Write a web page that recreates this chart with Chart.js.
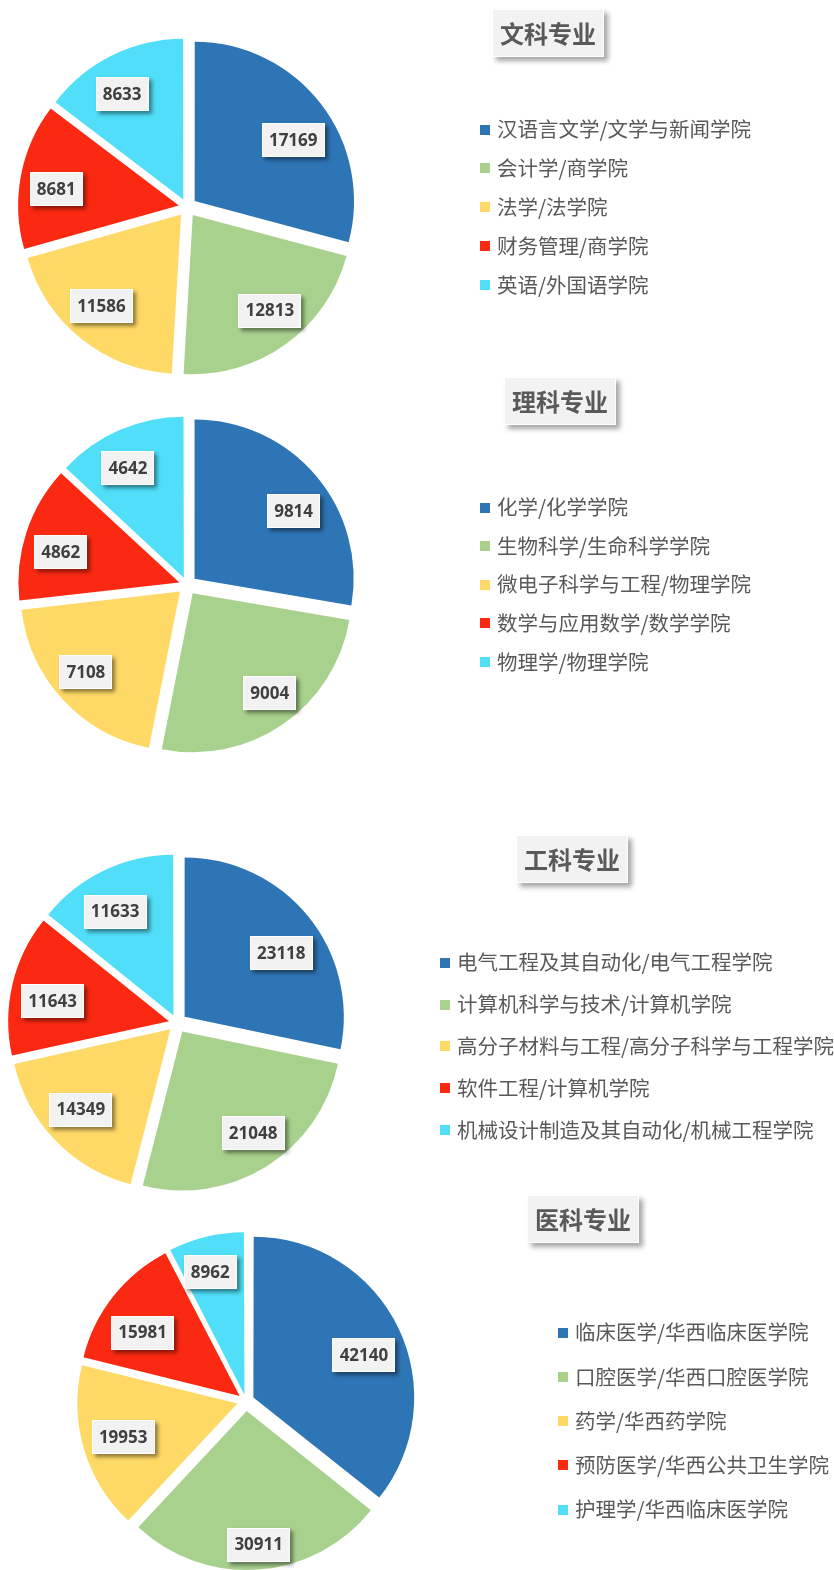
<!DOCTYPE html>
<html>
<head>
<meta charset="utf-8">
<script src="https://cdn.jsdelivr.net/npm/chart.js@4.4.1/dist/chart.umd.min.js"></script>
<style>
  html, body { margin: 0; padding: 0; background: #fff; }
  #page { position: relative; width: 834px; height: 1570px; overflow: hidden; }
  #page canvas { position: absolute; left: 0; }
</style>
</head>
<body>
<div id="page"></div>
<script>
// chart data
const titles = ['文科专业', '理科专业', '工科专业', '医科专业']

const artsLabels = ['汉语言文学/文学与新闻学院', '会计学/商学院', '法学/法学院', '财务管理/商学院', '英语/外国语学院']
const artsValues = [17169, 12813, 11586, 8681, 8633]

const scienceLabels = ['化学/化学学院', '生物科学/生命科学学院', '微电子科学与工程/物理学院', '数学与应用数学/数学学院', '物理学/物理学院']
const scienceValues = [9814, 9004, 7108, 4862, 4642]

const engLabels = ['电气工程及其自动化/电气工程学院', '计算机科学与技术/计算机学院', '高分子材料与工程/高分子科学与工程学院', '软件工程/计算机学院', '机械设计制造及其自动化/机械工程学院']
const engValues = [23118, 21048, 14349, 11643, 11633]

const medLabels = ['临床医学/华西临床医学院', '口腔医学/华西口腔医学院', '药学/华西药学院', '预防医学/华西公共卫生学院', '护理学/华西临床医学院']
const medValues = [42140, 30911, 19953, 15981, 8962]

const colors = ['#2e75b6', '#a9d18e', '#ffd966', '#fb2912', '#50def9']

// layout of each block on the page (page coordinates)
const layouts = [
  { top: 0,    height: 400, cx: 187, cy: 207,  tx: 548, ty: 33,    lx: 480, ly: 129.5,  gap: 38.9 },
  { top: 365,  height: 420, cx: 187, cy: 585,  tx: 560, ty: 401,   lx: 480, ly: 507.5,  gap: 38.6 },
  { top: 790,  height: 410, cx: 177, cy: 1023, tx: 572, ty: 858.5, lx: 440, ly: 962.7,  gap: 41.8 },
  { top: 1180, height: 390, cx: 246, cy: 1401, tx: 583, ty: 1219,  lx: 558, ly: 1332.5, gap: 44.3 }
]
const blocks = [
  [artsLabels, artsValues],
  [scienceLabels, scienceValues],
  [engLabels, engValues],
  [medLabels, medValues]
]

const RADIUS = 159
const EXPLODE = 10   // how far each slice is pulled out, px

// Chart.js moves an arc by offset/4 * (1 + fix), undo that so every slice moves EXPLODE px
function arcOffset(c) {
  const data = c.dataset.data
  const total = data.reduce((a, b) => a + b, 0)
  const circ = data[c.dataIndex] / total * Math.PI * 2
  const fix = 1 - Math.sin(Math.min(Math.PI, circ))
  return 4 * EXPLODE / (1 + fix)
}

function shadowBox(ctx, x, y, w, h, shadow) {
  ctx.save()
  ctx.shadowColor = shadow.color
  ctx.shadowBlur = shadow.blur
  ctx.shadowOffsetX = shadow.dx
  ctx.shadowOffsetY = shadow.dy
  ctx.fillStyle = '#f2f2f2'
  ctx.fillRect(x, y, w, h)
  ctx.restore()
  ctx.save()
  ctx.strokeStyle = '#ffffff'
  ctx.lineWidth = 1
  ctx.strokeRect(x + 0.5, y + 0.5, w - 1, h - 1)
  ctx.restore()
}

const decorPlugin = {
  id: 'decor',
  afterDatasetsDraw(chart, args, opts) {
    const ctx = chart.ctx
    const meta = chart.getDatasetMeta(0)
    const values = chart.data.datasets[0].data
    ctx.save()
    ctx.font = 'bold 17px "Open Sans", "Noto Sans", sans-serif'
    ctx.textAlign = 'center'
    ctx.textBaseline = 'middle'
    meta.data.forEach((arc, i) => {
      const p = arc.getProps(['x', 'y', 'startAngle', 'endAngle', 'outerRadius'], true)
      const mid = (p.startAngle + p.endAngle) / 2
      const ox = p.x + Math.cos(mid) * EXPLODE
      const oy = p.y + Math.sin(mid) * EXPLODE
      // label direction, flattened a little like the office layout does
      let ux = Math.cos(mid), uy = Math.sin(mid) * 0.87
      const n = Math.sqrt(ux * ux + uy * uy)
      ux /= n; uy /= n
      const text = String(values[i])
      const w = Math.round(ctx.measureText(text).width + 14)
      const h = 34
      // "inside end": push the box out until its far corner nears the rim
      let d = p.outerRadius
      const limit = p.outerRadius - 6
      while (d > 0) {
        const dx = Math.abs(ux * d) + w / 2
        const dy = Math.abs(uy * d) + h / 2
        if (Math.sqrt(dx * dx + dy * dy) <= limit) break
        d -= 0.5
      }
      const x = ox + ux * d + 1
      const y = oy + uy * d + 4
      shadowBox(ctx, Math.round(x - w / 2), Math.round(y - h / 2), w, h,
        { color: 'rgba(0,0,0,0.45)', blur: 4, dx: 3, dy: 3 })
      ctx.fillStyle = '#404040'
      ctx.fillText(text, x, y + 1)
    })
    ctx.restore()
  },
  afterDraw(chart, args, opts) {
    const ctx = chart.ctx
    // title box
    ctx.save()
    const tw = 112, th = 48
    shadowBox(ctx, Math.round(opts.tx - tw / 2), Math.round(opts.ty - th / 2), tw, th,
      { color: 'rgba(0,0,0,0.35)', blur: 5, dx: 4, dy: 4 })
    ctx.font = 'bold 24px "Noto Sans CJK SC", sans-serif'
    ctx.fillStyle = '#595959'
    ctx.textAlign = 'center'
    ctx.textBaseline = 'middle'
    ctx.fillText(opts.title, opts.tx, opts.ty + 1)
    ctx.restore()

    // legend
    ctx.save()
    ctx.font = '20.5px "Noto Sans CJK SC", sans-serif'
    ctx.textBaseline = 'middle'
    chart.data.labels.forEach((label, i) => {
      const y = opts.ly + i * opts.gap
      ctx.fillStyle = chart.data.datasets[0].backgroundColor[i]
      ctx.fillRect(opts.lx, Math.round(y - 5), 10, 10)
      ctx.fillStyle = '#595959'
      ctx.fillText(label, opts.lx + 17, y)
    })
    ctx.restore()
  }
}

const page = document.getElementById('page')

layouts.forEach((lay, k) => {
  const [labels, values] = blocks[k]
  const canvas = document.createElement('canvas')
  canvas.width = 834
  canvas.height = lay.height
  canvas.style.top = lay.top + 'px'
  page.appendChild(canvas)

  const cyLocal = lay.cy - lay.top
  const half = 165

  new Chart(canvas.getContext('2d'), {
    type: 'pie',
    data: {
      labels: labels,
      datasets: [{
        data: values,
        backgroundColor: colors,
        borderWidth: 0,
        offset: arcOffset,
        clip: false
      }]
    },
    options: {
      responsive: false,
      animation: false,
      radius: RADIUS,
      layout: {
        padding: {
          left: lay.cx - half,
          right: 834 - lay.cx - half,
          top: cyLocal - half,
          bottom: lay.height - cyLocal - half
        }
      },
      plugins: {
        legend: { display: false },
        tooltip: { enabled: false },
        decor: {
          title: titles[k],
          tx: lay.tx,
          ty: lay.ty - lay.top,
          lx: lay.lx,
          ly: lay.ly - lay.top,
          gap: lay.gap
        }
      }
    },
    plugins: [decorPlugin]
  })
})
</script>
</body>
</html>
